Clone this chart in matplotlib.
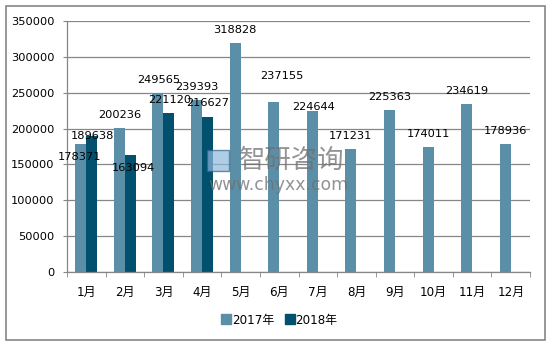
import numpy as np
import matplotlib
matplotlib.use('Agg')
import matplotlib.pyplot as plt
from matplotlib.patches import Rectangle
from matplotlib.lines import Line2D

plt.rcParams['font.family'] = ['DejaVu Sans', 'Noto Sans CJK SC']

months = ['1月', '2月', '3月', '4月', '5月', '6月', '7月', '8月', '9月', '10月', '11月', '12月']
sales_2017 = [178371, 200236, 249565, 239393, 318828, 237155, 224644, 171231, 225363, 174011, 234619, 178936]
sales_2018 = [189638, 163094, 221120, 216627]
y_ticks = [0, 50000, 100000, 150000, 200000, 250000, 300000, 350000]

C17 = '#5b8fa8'
C18 = '#00506e'
GRID = '#868686'
FS = 8.2

# 标签偏移（像素），参照原图位置
off_2017 = [(-1, -13), (0, 13), (1, 13), (0, 13), (0, 13), (8, 26), (1, 4),
            (0, 13), (0, 13), (0, 13), (0, 13), (0, 13)]
off_2018 = [(1, 0), (3, -13), (1, 13), (0, 14)]

fig = plt.figure(figsize=(5.53, 3.46), dpi=100)
ax = fig.add_axes([0.1212, 0.2139, 0.8373, 0.7254])

w = 0.285
x = np.arange(len(months))
x18 = np.arange(len(sales_2018))
ax.bar(x - w / 2, sales_2017, width=w, color=C17, zorder=2)
ax.bar(x18 + w / 2, sales_2018, width=w, color=C18, zorder=2)

for xi, v, (dx, dy) in zip(x - w / 2, sales_2017, off_2017):
    ax.annotate(str(v), (xi, v), xytext=(dx, dy), textcoords='offset pixels',
                ha='center', va='center', fontsize=FS, zorder=6)
for xi, v, (dx, dy) in zip(x18 + w / 2, sales_2018, off_2018):
    ax.annotate(str(v), (xi, v), xytext=(dx, dy), textcoords='offset pixels',
                ha='center', va='center', fontsize=FS, zorder=6)

ax.set_xlim(-0.5, len(months) - 0.5)
ax.set_ylim(0, 350000)
ax.set_yticks(y_ticks)
ax.set_yticklabels([str(t) for t in y_ticks])
ax.yaxis.grid(True, color=GRID, linewidth=0.9, zorder=0)
ax.set_axisbelow(True)

ax.set_xticks(x)
ax.set_xticklabels(months)
ax.set_xticks(np.arange(-0.5, len(months)), minor=True)
ax.tick_params(axis='x', which='major', length=0, pad=10, labelsize=8.6)
ax.tick_params(axis='x', which='minor', length=3.5, color=GRID, direction='out')
ax.tick_params(axis='y', length=3, color=GRID, pad=6, labelsize=FS)

for s in ['top', 'right']:
    ax.spines[s].set_visible(False)
for s in ['left', 'bottom']:
    ax.spines[s].set_color(GRID)
    ax.spines[s].set_linewidth(0.9)

# 水印
fig.text(0.527, 0.535, '智研咨询', fontsize=19, color='#6f6f6f', alpha=0.75,
         ha='center', va='center', family=['Noto Sans CJK SC'], zorder=5)
fig.text(0.503, 0.465, 'www.chyxx.com', fontsize=12.4, color='#6f6f6f', alpha=0.75,
         ha='center', va='center', zorder=5)
fig.patches.append(Rectangle((0.375, 0.505), 0.04, 0.062, transform=fig.transFigure,
                             facecolor='#8fb8dc', edgecolor='#2e5f8f', alpha=0.7, zorder=5))

handles = [Line2D([], [], marker='s', linestyle='', color=C17, markersize=7),
           Line2D([], [], marker='s', linestyle='', color=C18, markersize=7)]
fig.legend(handles, ['2017年', '2018年'], loc='center', bbox_to_anchor=(0.505, 0.075),
           ncol=2, frameon=False, fontsize=8.6, handlelength=0.8, handletextpad=0.1,
           columnspacing=0.9)

fig.patches.append(Rectangle((0.0108, 0.0173), 0.9747, 0.9653, transform=fig.transFigure,
                             fill=False, edgecolor=GRID, linewidth=1.2))

fig.savefig('out.png', dpi=100)
